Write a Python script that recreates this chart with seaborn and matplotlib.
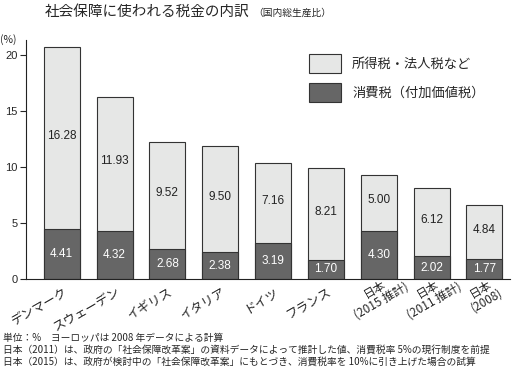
import matplotlib
matplotlib.use("Agg")
import matplotlib.pyplot as plt
import seaborn as sns
import pandas as pd
from matplotlib.patches import Patch

sns.set_style("ticks")
plt.rcParams["font.family"] = ["Noto Sans CJK JP", "DejaVu Sans"]

categories = ["デンマーク", "スウェーデン", "イギリス", "イタリア", "ドイツ", "フランス",
              "日本\n(2015 推計)", "日本\n(2011 推計)", "日本\n(2008)"]
consumption_tax = [4.41, 4.32, 2.68, 2.38, 3.19, 1.70, 4.30, 2.02, 1.77]
income_tax = [16.28, 11.93, 9.52, 9.50, 7.16, 8.21, 5.00, 6.12, 4.84]
yticks = [0, 5, 10, 15, 20]

light = "#e6e7e6"
dark = "#666666"
edge = "#333333"
num_font = ["Liberation Sans", "DejaVu Sans"]

df = pd.DataFrame({"country": categories, "consumption": consumption_tax, "income": income_tax})
df["total"] = df["consumption"] + df["income"]

fig = plt.figure(figsize=(5.16, 3.7), dpi=100)
ax = fig.add_axes([0.050, 0.246, 0.938, 0.646])

sns.barplot(data=df, x="country", y="total", color=light, edgecolor=edge,
            linewidth=0.8, width=0.68, saturation=1, ax=ax)
sns.barplot(data=df, x="country", y="consumption", color=dark, edgecolor=edge,
            linewidth=0.8, width=0.68, saturation=1, ax=ax)

for i, row in df.iterrows():
    ax.text(i, row["consumption"] / 2, f"{row['consumption']:.2f}", ha="center", va="center",
            color="white", fontsize=8.5, family=num_font)
    ax.text(i, row["consumption"] + row["income"] / 2 + 0.2, f"{row['income']:.2f}", ha="center",
            va="center", color="#222222", fontsize=8.5, family=num_font)

ax.set_xlim(-0.68, 8.48)
ax.set_ylim(0, 21.3)
ax.set_yticks(yticks)
ax.set_yticklabels([str(v) for v in yticks], fontsize=8, family=num_font)
ax.set_xlabel("")
ax.set_ylabel("")
ax.set_xticks(range(len(categories)))
ax.set_xticklabels([])
ax.tick_params(axis="x", length=0)
ax.tick_params(axis="y", length=4, width=0.8, direction="out", pad=2)

# rotated category labels
for i, lab in enumerate(categories):
    if "\n" in lab:
        ax.annotate(lab, xy=(i, 0), xycoords=("data", "axes fraction"), xytext=(-5, -3.5),
                    textcoords="offset points", rotation=30, rotation_mode="anchor",
                    ha="center", va="top", multialignment="center", fontsize=8.5,
                    linespacing=1.0)
    else:
        ax.annotate(lab, xy=(i, 0), xycoords=("data", "axes fraction"), xytext=(1, -4.5),
                    textcoords="offset points", rotation=30, rotation_mode="anchor",
                    ha="right", va="top", fontsize=9)

sns.despine(ax=ax, right=True, top=True)
for s in ["left", "bottom"]:
    ax.spines[s].set_linewidth(0.8)
    ax.spines[s].set_color("#222222")

handles = [Patch(facecolor=light, edgecolor=edge, linewidth=0.8, label="所得税・法人税など"),
           Patch(facecolor=dark, edgecolor=edge, linewidth=0.8, label="消費税（付加価値税）")]
ax.legend(handles=handles, loc="upper left", bbox_to_anchor=(0.561, 0.99), frameon=False,
          fontsize=9.5, handlelength=2.4, handleheight=1.82, labelspacing=0.75,
          handletextpad=0.85)

fig.text(0.087, 0.967, "社会保障に使われる税金の内訳", fontsize=10.5, va="center", ha="left")
fig.text(0.49, 0.965, "（国内総生産比）", fontsize=7, va="center", ha="left")
fig.text(0.0, 0.893, "(%)", fontsize=7.5, va="center", ha="left")

notes = ["単位：%　ヨーロッパは 2008 年データによる計算",
         "日本（2011）は、政府の「社会保障改革案」の資料データによって推計した値、消費税率 5%の現行制度を前提",
         "日本（2015）は、政府が検討中の「社会保障改革案」にもとづき、消費税率を 10%に引き上げた場合の試算"]
for k, n in enumerate(notes):
    fig.text(0.005, 0.0865 - k * 0.0325, n, fontsize=7, va="center", ha="left")

fig.savefig("out.png", dpi=100)
